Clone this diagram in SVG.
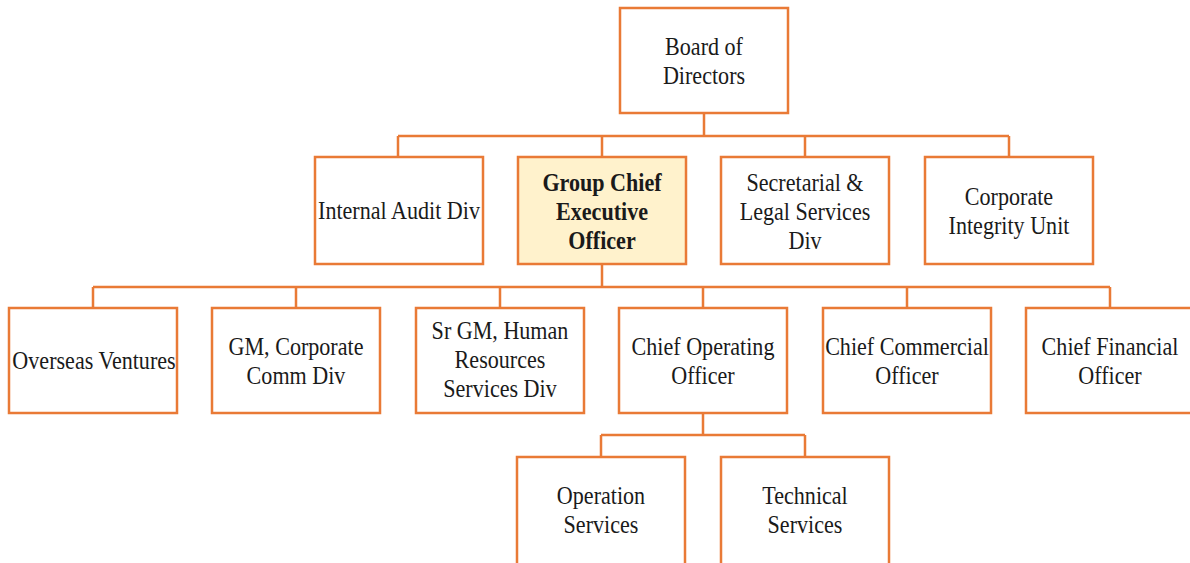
<svg xmlns="http://www.w3.org/2000/svg" width="1190" height="563" viewBox="0 0 1190 563">
<style>
.box{fill:#ffffff;stroke:#E97A36;stroke-width:2.5}
.hl{fill:#FFF2CC}
.con{fill:none;stroke:#E97A36;stroke-width:2.5}
.t{font-family:"Liberation Serif","Times New Roman",serif;font-size:26px;fill:#1a1a1a;text-anchor:middle}
.b{font-weight:bold}
</style>
<rect width="1190" height="563" fill="#ffffff"/>
<g id="connectors">
<path class="con" d="M704 113V136M398 136H1009M398 136V157M602 136V157M805 136V157M1009 136V157"/>
<path class="con" d="M602 264V287M93 287H1110M93 287V308M296 287V308M500 287V308M703 287V308M907 287V308M1110 287V308"/>
<path class="con" d="M703 413V435M601 435H805M601 435V457M805 435V457"/>
</g>
<g id="board">
<rect class="box" x="620" y="8" width="168" height="105"/>
<g transform="translate(704,0) scale(0.85,1)"><text class="t" x="0" y="55">Board of</text><text class="t" x="0" y="84">Directors</text></g>
</g>
<g id="internal-audit">
<rect class="box" x="315" y="157" width="168" height="107"/>
<g transform="translate(399,0) scale(0.85,1)"><text class="t" x="0" y="219">Internal Audit Div</text></g>
</g>
<g id="gceo">
<rect class="box hl" x="518" y="157" width="168" height="107"/>
<g transform="translate(602,0) scale(0.85,1)"><text class="t b" x="0" y="191">Group Chief</text><text class="t b" x="0" y="220">Executive</text><text class="t b" x="0" y="249">Officer</text></g>
</g>
<g id="secretarial">
<rect class="box" x="721" y="157" width="168" height="107"/>
<g transform="translate(805,0) scale(0.85,1)"><text class="t" x="0" y="191">Secretarial &amp;</text><text class="t" x="0" y="220">Legal Services</text><text class="t" x="0" y="249">Div</text></g>
</g>
<g id="integrity">
<rect class="box" x="925" y="157" width="168" height="107"/>
<g transform="translate(1009,0) scale(0.85,1)"><text class="t" x="0" y="205">Corporate</text><text class="t" x="0" y="234">Integrity Unit</text></g>
</g>
<g id="overseas">
<rect class="box" x="9" y="308" width="168" height="105"/>
<g transform="translate(94,0) scale(0.85,1)"><text class="t" x="0" y="369">Overseas Ventures</text></g>
</g>
<g id="gm-comm">
<rect class="box" x="212" y="308" width="168" height="105"/>
<g transform="translate(296,0) scale(0.85,1)"><text class="t" x="0" y="355">GM, Corporate</text><text class="t" x="0" y="384">Comm Div</text></g>
</g>
<g id="hr">
<rect class="box" x="416" y="308" width="168" height="105"/>
<g transform="translate(500,0) scale(0.85,1)"><text class="t" x="0" y="339">Sr GM, Human</text><text class="t" x="0" y="368">Resources</text><text class="t" x="0" y="397">Services Div</text></g>
</g>
<g id="coo">
<rect class="box" x="619" y="308" width="168" height="105"/>
<g transform="translate(703,0) scale(0.85,1)"><text class="t" x="0" y="355">Chief Operating</text><text class="t" x="0" y="384">Officer</text></g>
</g>
<g id="cco">
<rect class="box" x="823" y="308" width="168" height="105"/>
<g transform="translate(907,0) scale(0.85,1)"><text class="t" x="0" y="355">Chief Commercial</text><text class="t" x="0" y="384">Officer</text></g>
</g>
<g id="cfo">
<rect class="box" x="1026" y="308" width="170" height="105"/>
<g transform="translate(1110,0) scale(0.85,1)"><text class="t" x="0" y="355">Chief Financial</text><text class="t" x="0" y="384">Officer</text></g>
</g>
<g id="operation">
<rect class="box" x="517" y="457" width="168" height="110"/>
<g transform="translate(601,0) scale(0.85,1)"><text class="t" x="0" y="504">Operation</text><text class="t" x="0" y="533">Services</text></g>
</g>
<g id="technical">
<rect class="box" x="721" y="457" width="168" height="110"/>
<g transform="translate(805,0) scale(0.85,1)"><text class="t" x="0" y="504">Technical</text><text class="t" x="0" y="533">Services</text></g>
</g>
</svg>
